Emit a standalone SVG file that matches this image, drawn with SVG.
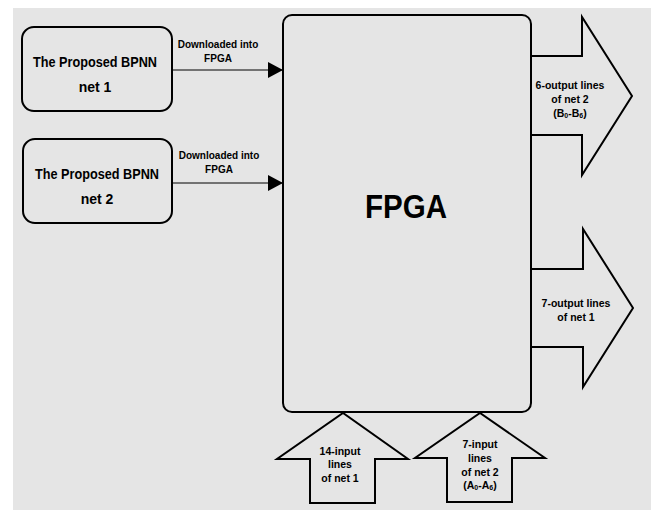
<svg xmlns="http://www.w3.org/2000/svg" width="654" height="510" viewBox="0 0 654 510">
<defs>
<style>
.bg{fill:#e5e5e5}
.box{fill:#e5e5e5;stroke:#000;stroke-width:2}
.blk{fill:#e5e5e5;stroke:#000;stroke-width:2;stroke-linejoin:miter}
.conn{stroke:#000;stroke-width:1;fill:none}
.t{font-family:"Liberation Sans",Arial,sans-serif;font-weight:bold;fill:#000;text-anchor:middle}
.big{font-size:14px}
.sm{font-size:10.5px}
.lbl{font-size:10px}
.sub{font-size:7px}
</style>
<marker id="ah" markerWidth="15" markerHeight="16" refX="15" refY="8" orient="auto" markerUnits="userSpaceOnUse">
<path d="M0,0 L15,8 L0,16 Z" fill="#000"/>
</marker>
</defs>
<rect x="0" y="0" width="654" height="510" fill="#fff"/>
<rect class="bg" x="13" y="8" width="638" height="502"/>

<g id="connectors">
<line class="conn" x1="172" y1="70" x2="283" y2="70" marker-end="url(#ah)"/>
<line class="conn" x1="172" y1="183" x2="283" y2="183" marker-end="url(#ah)"/>
<text class="t lbl" x="218" y="48">Downloaded into</text>
<text class="t lbl" x="218" y="62">FPGA</text>
<text class="t lbl" x="219" y="159">Downloaded into</text>
<text class="t lbl" x="219" y="173">FPGA</text>
</g>

<g id="net1">
<rect class="box" x="22" y="27" width="150" height="84" rx="12"/>
<text class="t big" x="95" y="67" textLength="124" lengthAdjust="spacingAndGlyphs">The Proposed BPNN</text>
<text class="t big" x="95" y="92">net 1</text>
</g>

<g id="net2">
<rect class="box" x="23" y="139" width="149" height="84" rx="12"/>
<text class="t big" x="97" y="179" textLength="124" lengthAdjust="spacingAndGlyphs">The Proposed BPNN</text>
<text class="t big" x="97" y="204">net 2</text>
</g>

<g id="out2">
<path class="blk" d="M531,56 L582,56 L582,17 L632,96 L582,175 L582,135 L531,135"/>
<text class="t sm" x="570" y="89">6-output lines</text>
<text class="t sm" x="570" y="103">of net 2</text>
<text class="t sm" x="570" y="117">(B<tspan class="sub" dy="1">0</tspan><tspan dy="-1">-B</tspan><tspan class="sub" dy="1">6</tspan><tspan dy="-1">)</tspan></text>
</g>

<g id="out1">
<path class="blk" d="M531,269 L583,269 L583,229 L633,308 L583,387 L583,347 L531,347"/>
<text class="t sm" x="576" y="307">7-output lines</text>
<text class="t sm" x="576" y="321">of net 1</text>
</g>

<g id="in1">
<path class="blk" d="M310,503 L310,459 L277,459 L343,413 L408,459 L375,459 L375,503 Z"/>
<text class="t sm" x="340" y="455">14-input</text>
<text class="t sm" x="340" y="468">lines</text>
<text class="t sm" x="340" y="482">of net 1</text>
</g>

<g id="in2">
<path class="blk" d="M447,502 L447,458 L415,458 L480,413 L545,458 L512,458 L512,502 Z"/>
<text class="t sm" x="480" y="448">7-input</text>
<text class="t sm" x="480" y="462">lines</text>
<text class="t sm" x="480" y="476">of net 2</text>
<text class="t sm" x="480" y="489">(A<tspan class="sub" dy="1">0</tspan><tspan dy="-1">-A</tspan><tspan class="sub" dy="1">6</tspan><tspan dy="-1">)</tspan></text>
</g>

<g id="fpga">
<rect class="box" x="283" y="15" width="248" height="397" rx="9"/>
<text class="t" x="406" y="218" font-size="34" textLength="82" lengthAdjust="spacingAndGlyphs">FPGA</text>
</g>
</svg>
